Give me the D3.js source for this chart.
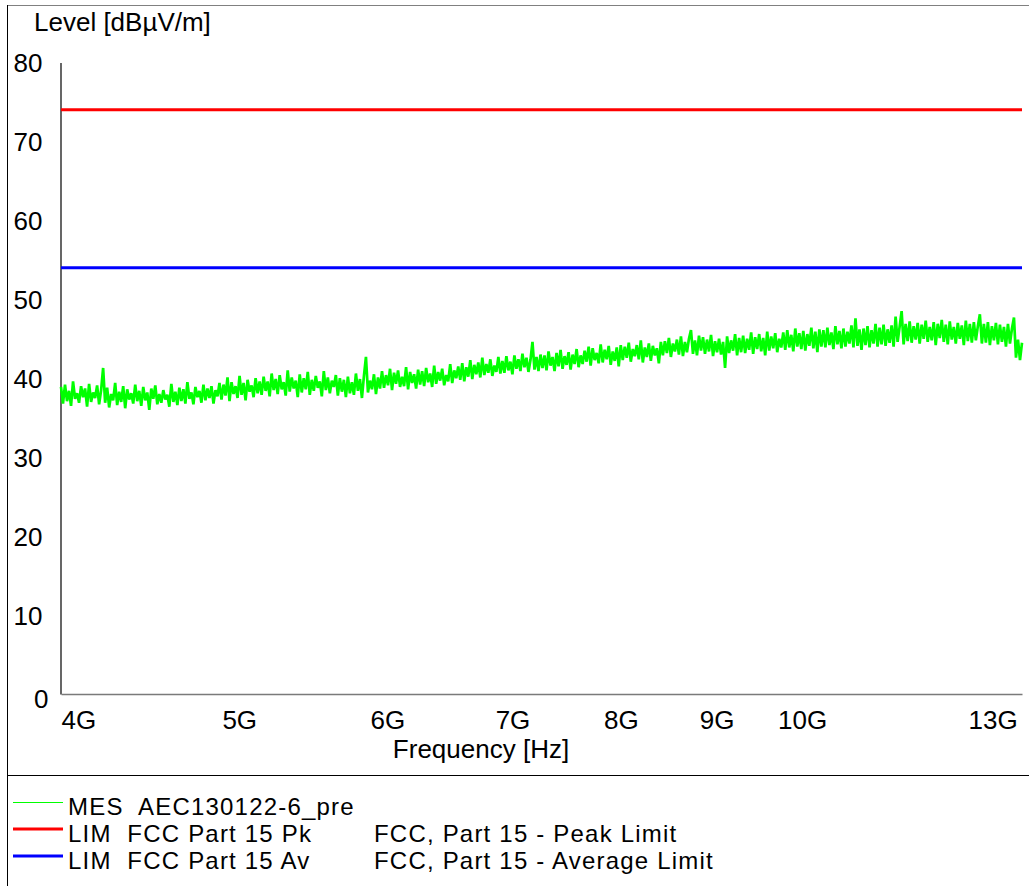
<html>

<head>
  <title>EMC scan 4G - 13G</title>
  <script type="text/javascript" src="https://cdn.jsdelivr.net/npm/d3@7"></script>
  <style>
    body { margin: 0; background: #fff; }
    text { font-family: "Liberation Sans", Arial, sans-serif; }
  </style>
</head>

<body>
  <script type="text/javascript">
    // Width og height
    const w = 1029;
    const h = 886;

    // Akser
    const yTicks = [0, 10, 20, 30, 40, 50, 60, 70, 80];
    const xTicks = [4e9, 5e9, 6e9, 7e9, 8e9, 9e9, 10e9, 13e9];
    const xLabels = ["4G", "5G", "6G", "7G", "8G", "9G", "10G", "13G"];

    // Grænseværdier (dBuV/m)
    const limPeak = [74, 74];
    const limAvg = [54, 54];
    const limFreq = [4e9, 13.06e9];

    // Sweep 4 GHz - 13.06 GHz (dBuV/m)
    const mesStart = 4e9;
    const mesStop = 13.06e9;
    const mesLevel = [
      38.9, 36.8, 39.2, 37.1, 38.4, 36.5, 39.6, 37.4, 38.1, 36.9, 39.0, 37.6, 38.7, 36.4, 39.3, 37.0, 38.2, 37.5, 39.1, 36.7,
      38.5, 41.3, 36.9, 38.8, 36.3, 38.0, 37.2, 39.4, 36.6, 38.3, 37.0, 39.0, 36.2, 38.6, 37.3, 38.1, 36.8, 39.2, 37.1, 38.4,
      36.5, 38.9, 37.2, 38.2, 36.0, 38.7, 37.4, 39.1, 36.7, 38.0, 36.9, 38.5, 37.3, 37.9, 36.4, 39.3, 37.0, 38.3, 36.6, 38.8,
      37.1, 38.6, 36.8, 39.5, 37.4, 38.2, 36.7, 38.9, 37.6, 38.4, 36.9, 39.2, 37.2, 38.7, 37.5, 39.0, 36.8, 38.5, 37.7, 39.4,
      37.3, 39.2, 37.8, 40.1, 37.1, 39.5, 38.0, 39.0, 37.5, 40.3, 37.9, 39.4, 37.2, 39.8, 38.3, 39.1, 37.6, 40.0, 38.1, 39.6,
      37.9, 40.2, 38.4, 39.6, 37.7, 40.6, 38.5, 39.9, 38.0, 40.4, 38.6, 39.5, 37.8, 41.0, 38.3, 40.1, 38.7, 39.7, 37.6, 40.5,
      38.2, 40.0, 38.6, 40.8, 37.9, 39.8, 38.4, 40.3, 38.8, 39.6, 37.7, 40.9, 38.5, 40.1, 38.1, 39.7, 38.9, 40.4, 37.8, 40.0,
      38.3, 39.8, 37.6, 40.2, 38.1, 39.5, 37.9, 40.6, 38.4, 39.9, 37.5, 40.3, 42.7, 38.2, 39.7, 38.6, 40.5, 38.0, 40.1, 38.7,
      40.9, 38.8, 40.4, 39.1, 41.2, 38.5, 40.7, 39.3, 41.0, 38.9, 40.2, 39.0, 41.4, 38.6, 40.8, 39.4, 40.5, 38.7, 41.1, 39.2,
      40.9, 39.0, 41.3, 39.5, 40.6, 38.9, 41.6, 39.3, 40.8, 39.7, 41.2, 39.1, 40.4, 39.6, 41.8, 39.4, 41.0, 40.0, 41.5, 39.8,
      41.9, 39.6, 41.4, 40.2, 42.3, 39.9, 41.7, 40.5, 42.0, 40.1, 42.6, 40.4, 41.8, 40.7, 42.4, 40.3, 41.6, 40.8, 42.7, 40.6,
      42.2, 40.7, 42.8, 41.0, 42.1, 40.5, 42.9, 41.2, 42.4, 40.9, 43.1, 41.4, 42.6, 40.8, 42.3, 44.6, 41.1, 42.7, 40.9, 43.0,
      41.3, 42.9, 41.0, 43.4, 41.6, 42.7, 40.9, 43.2, 41.5, 43.6, 41.2, 42.8, 41.7, 43.3, 41.1, 43.0, 41.8, 43.7, 41.4, 42.9,
      41.8, 43.5, 42.1, 44.0, 41.6, 43.8, 42.3, 43.2, 41.9, 44.3, 42.0, 43.6, 42.4, 44.1, 41.7, 43.4, 42.2, 43.9, 41.5, 44.2,
      42.3, 44.0, 42.6, 44.5, 42.1, 43.7, 42.8, 44.2, 42.4, 44.8, 42.0, 43.9, 42.7, 44.4, 42.2, 44.1, 42.9, 43.8, 41.9, 44.6,
      42.9, 44.7, 43.2, 45.1, 42.7, 44.4, 43.4, 44.9, 43.0, 45.3, 42.8, 44.6, 43.3, 45.0, 46.1, 43.1, 44.8, 42.9, 45.4, 43.5,
      45.2, 43.1, 44.9, 43.4, 45.5, 42.8, 44.7, 43.3, 45.0, 43.0, 44.6, 41.3, 45.3, 43.2, 44.8, 43.5, 45.6, 42.9, 45.1, 43.3,
      45.4, 43.2, 45.0, 43.6, 45.8, 43.1, 45.2, 43.7, 45.6, 43.4, 45.1, 42.9, 45.9, 43.5, 45.3, 43.8, 45.7, 43.3, 45.0, 43.9,
      45.8, 43.6, 46.1, 43.9, 45.5, 43.4, 46.3, 44.0, 45.7, 43.7, 46.0, 43.5, 45.6, 44.1, 46.4, 43.8, 45.9, 43.3, 46.2, 44.0,
      46.1, 43.9, 46.4, 44.2, 45.8, 43.7, 46.6, 44.3, 46.0, 43.8, 46.3, 44.0, 45.9, 44.4, 46.7, 43.9, 47.6, 44.1, 46.2, 43.6,
      46.3, 44.2, 46.6, 43.9, 46.1, 44.4, 46.9, 44.0, 46.4, 44.3, 46.8, 44.1, 46.2, 44.5, 46.7, 44.0, 47.8, 44.6, 46.5, 48.5,
      44.3, 46.9, 44.7, 47.2, 44.5, 46.6, 44.9, 47.0, 44.4, 46.8, 45.0, 47.3, 44.6, 46.5, 44.8, 47.1, 44.2, 46.9, 45.1, 47.4,
      44.6, 46.8, 44.3, 47.2, 44.9, 46.5, 44.4, 47.0, 45.0, 46.7, 44.2, 47.3, 44.7, 46.9, 44.5, 47.1, 44.8, 46.6, 48.1, 44.4,
      46.9, 44.5, 47.1, 44.2, 46.6, 44.8, 47.0, 44.3, 46.8, 44.6, 46.5, 44.0, 46.9, 44.4, 46.3, 47.7, 42.6, 44.9, 42.3, 44.5
    ];

    // Legende
    const legendCodes = ["MES  AEC130122-6_pre", "LIM  FCC Part 15 Pk", "LIM  FCC Part 15 Av"];
    const legendNames = ["", "FCC, Part 15 - Peak Limit", "FCC, Part 15 - Average Limit"];
    const legendColors = ["#00ff00", "#ff0000", "#0000ff"];
    const legendWidths = [1, 3, 3];

    const fontFam = '"Liberation Sans", Arial, sans-serif';

    // Sweep-punkter (logaritmisk fordelt)
    const mesFreq = d3.range(mesLevel.length).map(function (i) {
      return mesStart * Math.pow(mesStop / mesStart, i / (mesLevel.length - 1));
    });

    // Scale-funktioner
    const xScale = d3.scaleLog()
      .domain([4e9, 13.06e9])
      .range([61, 1022]);

    const yScale = d3.scaleLinear()
      .domain([0, 80])
      .range([694, 62.5]);

    // Lav SVG element
    const svg = d3.select("body")
      .append("svg")
      .attr("width", w)
      .attr("height", h);

    // Ramme
    svg.append("line")
      .attr("x1", 7).attr("x2", w).attr("y1", 5.5).attr("y2", 5.5)
      .attr("stroke", "#808080").attr("stroke-width", 1);
    svg.append("line")
      .attr("x1", 7.5).attr("x2", 7.5).attr("y1", 5).attr("y2", h)
      .attr("stroke", "#000").attr("stroke-width", 1);
    svg.append("line")
      .attr("x1", 7).attr("x2", w).attr("y1", 775.5).attr("y2", 775.5)
      .attr("stroke", "#000").attr("stroke-width", 1.2);

    // Y-akse
    const yAxis = d3.axisLeft(yScale)
      .tickValues(yTicks)
      .tickSize(0)
      .tickSizeOuter(0)
      .tickPadding(18);
    const gy = svg.append("g")
      .attr("transform", "translate(60.5,0)")
      .call(yAxis)
      .attr("font-size", 26)
      .attr("font-family", fontFam);
    gy.select(".domain").attr("stroke", "#000").attr("stroke-width", 1.2);
    gy.selectAll(".tick text").attr("fill", "#000")
      .attr("dy", "0.36em");
    gy.selectAll(".tick").filter(function (d) { return d === 0; })
      .select("text").attr("x", -12).attr("dy", "0.5em");

    // X-akse
    const xAxis = d3.axisBottom(xScale)
      .tickValues(xTicks)
      .tickFormat(function (d, i) { return xLabels[i]; })
      .tickSize(0)
      .tickSizeOuter(0);
    const gx = svg.append("g")
      .attr("transform", "translate(0,694)")
      .call(xAxis)
      .attr("font-size", 26)
      .attr("font-family", fontFam);
    gx.select(".domain").attr("stroke", "#7a7a7a").attr("stroke-width", 1.5);
    gx.selectAll(".tick text")
      .attr("fill", "#000")
      .attr("dy", null)
      .attr("y", 35)
      .attr("x", -3);
    gx.selectAll(".tick").filter(function (d) { return d === 4e9; })
      .select("text").attr("text-anchor", "start").attr("x", 0);
    gx.selectAll(".tick").filter(function (d) { return d === 13e9; })
      .select("text").attr("text-anchor", "end").attr("x", -1);

    // Aksetitler
    svg.append("text")
      .attr("x", 34).attr("y", 31)
      .attr("font-size", 26)
      .text("Level [dBµV/m]");
    svg.append("text")
      .attr("x", 481).attr("y", 758)
      .attr("text-anchor", "middle")
      .attr("font-size", 26)
      .text("Frequency [Hz]");

    // Grænser
    const limLine = d3.line()
      .x(function (d, i) { return xScale(limFreq[i]); })
      .y(function (d) { return yScale(d); });
    svg.append("path")
      .attr("d", limLine(limPeak))
      .attr("fill", "none").attr("stroke", "#ff0000").attr("stroke-width", 3);
    svg.append("path")
      .attr("d", limLine(limAvg))
      .attr("fill", "none").attr("stroke", "#0000ff").attr("stroke-width", 3);

    // Måling
    const mesLine = d3.line()
      .x(function (d, i) { return xScale(mesFreq[i]); })
      .y(function (d) { return yScale(d); });
    svg.append("path")
      .attr("d", mesLine(mesLevel))
      .attr("fill", "none")
      .attr("stroke", "#00ff00")
      .attr("stroke-width", 2.7)
      .attr("stroke-linejoin", "bevel");

    // Legende
    const legY = [802.5, 829, 856];
    const legTextY = [815, 842, 869];
    const leg = svg.selectAll("g.leg")
      .data(legendCodes)
      .enter()
      .append("g")
      .attr("class", "leg");
    leg.append("line")
      .attr("x1", 13).attr("x2", 63)
      .attr("y1", function (d, i) { return legY[i]; })
      .attr("y2", function (d, i) { return legY[i]; })
      .attr("stroke", function (d, i) { return legendColors[i]; })
      .attr("stroke-width", function (d, i) { return legendWidths[i]; });
    leg.append("text")
      .attr("x", 68)
      .attr("y", function (d, i) { return legTextY[i]; })
      .attr("font-size", 24)
      .attr("letter-spacing", 1.2)
      .style("white-space", "pre")
      .text(function (d) { return d; });
    leg.append("text")
      .attr("x", 374)
      .attr("y", function (d, i) { return legTextY[i]; })
      .attr("font-size", 24)
      .attr("letter-spacing", 1.2)
      .text(function (d, i) { return legendNames[i]; });
  </script>
</body>

</html>
